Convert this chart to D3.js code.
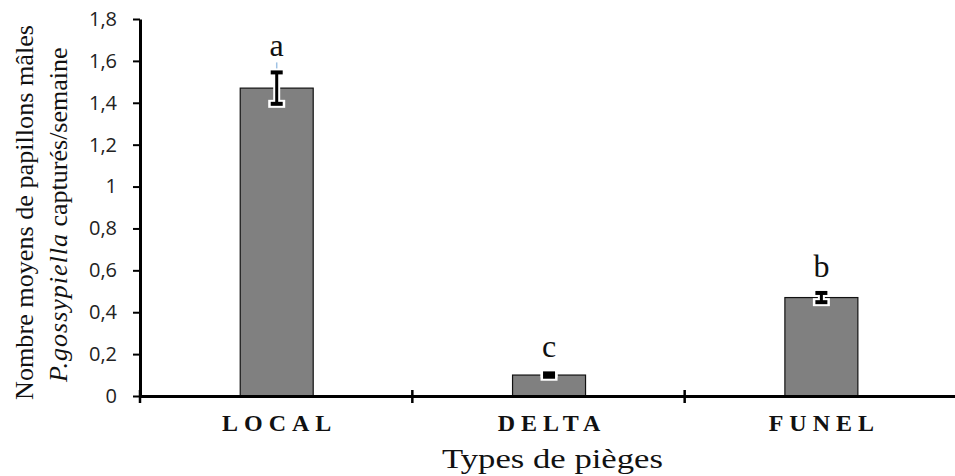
<!DOCTYPE html>
<html>
<head>
<meta charset="utf-8">
<script src="https://cdn.jsdelivr.net/npm/d3@7"></script>
<style>
  body { margin: 0; background: #fff; }
  .tick-label { font-family: "Open Sans", "Liberation Sans", sans-serif; font-size: 20px; fill: #222; }
  .cat-label { font-family: "Liberation Serif", serif; font-size: 24px; font-weight: bold; letter-spacing: 6px; fill: #111; }
  .serif { font-family: "Liberation Serif", serif; fill: #111; }
</style>
</head>
<body>
<div id="chart"></div>
<script>
// Data
const categories = ['LOCAL', 'DELTA', 'FUNEL'];
const means = [1.47, 0.10, 0.47];
const errors = [0.075, 0.008, 0.022];
const letters = ['a', 'c', 'b'];
const yTicks = [0, 0.2, 0.4, 0.6, 0.8, 1, 1.2, 1.4, 1.6, 1.8];

const W = 955, H = 476;
const margin = { top: 19, right: -2, bottom: 80, left: 140 };
const width = W - margin.left - margin.right;
const height = H - margin.top - margin.bottom;

const svg = d3.select('#chart').append('svg')
  .attr('width', W)
  .attr('height', H);

const g = svg.append('g')
  .attr('transform', `translate(${margin.left},${margin.top})`);

const x = d3.scaleBand()
  .domain(categories)
  .range([0, width])
  .padding(0);

const y = d3.scaleLinear()
  .domain([0, 1.8])
  .range([height, 0]);

const fmt = d => String(d).replace('.', ',');

// Y axis
const yAxis = g.append('g')
  .call(d3.axisLeft(y).tickValues(yTicks).tickFormat(fmt).tickSize(7).tickSizeOuter(0));
yAxis.select('.domain').attr('stroke', '#000').attr('stroke-width', 3);
yAxis.selectAll('.tick line').attr('stroke', '#000').attr('stroke-width', 2);
yAxis.selectAll('.tick text').attr('class', 'tick-label').attr('x', -23);

// Bars
const cx = d => x(d) + x.bandwidth() * 0.502;
const barW = x.bandwidth() * 0.268;
g.selectAll('.bar')
  .data(categories)
  .enter()
  .append('rect')
  .attr('class', 'bar')
  .attr('x', d => cx(d) - barW / 2)
  .attr('width', barW)
  .attr('y', (d, i) => y(means[i]))
  .attr('height', (d, i) => height - y(means[i]))
  .attr('fill', '#808080')
  .attr('stroke', '#111')
  .attr('stroke-width', 1.2);

// Error bars (black with white halo)
const eb = g.selectAll('.err')
  .data(categories)
  .enter()
  .append('g')
  .attr('class', 'err');

// faint blue tail above the first error bar, as in the original
eb.filter((d, i) => i === 0).append('line')
  .attr('x1', cx).attr('x2', cx)
  .attr('y1', (d, i) => y(means[0] + errors[0]) - 10)
  .attr('y2', (d, i) => y(means[0] + errors[0]))
  .attr('stroke', '#9fc2e4').attr('stroke-width', 1.5);

[['#fff', 7, 17], ['#000', 3, 12]].forEach(([col, sw, cap]) => {
  eb.append('line')
    .attr('x1', cx).attr('x2', cx)
    .attr('y1', (d, i) => y(means[i] + errors[i]))
    .attr('y2', (d, i) => y(means[i] - errors[i]))
    .attr('stroke', col).attr('stroke-width', sw);
  [1, -1].forEach(s => {
    eb.append('line')
      .attr('x1', d => cx(d) - cap / 2).attr('x2', d => cx(d) + cap / 2)
      .attr('y1', (d, i) => y(means[i] + s * errors[i]))
      .attr('y2', (d, i) => y(means[i] + s * errors[i]))
      .attr('stroke', col).attr('stroke-width', sw + 1);
  });
});

// Significance letters
g.selectAll('.letter')
  .data(categories)
  .enter()
  .append('text')
  .attr('class', 'serif')
  .attr('x', cx)
  .attr('y', (d, i) => y(means[i] + errors[i]) - 16)
  .attr('text-anchor', 'middle')
  .style('font-size', '32px')
  .text((d, i) => letters[i]);

// X axis
const xAxis = g.append('g')
  .attr('transform', `translate(0,${height})`)
  .call(d3.axisBottom(x).tickSize(0).tickSizeOuter(0));
xAxis.select('.domain').attr('stroke', '#000').attr('stroke-width', 3);
xAxis.selectAll('.tick text').remove();

// Category labels
g.selectAll('.cat')
  .data(categories)
  .enter()
  .append('text')
  .attr('class', 'cat-label')
  .attr('x', d => cx(d) + 3)
  .attr('y', height + 35)
  .attr('text-anchor', 'middle')
  .text(d => d);

// Category separators
g.selectAll('.sep')
  .data(categories)
  .enter()
  .append('line')
  .attr('x1', d => x(d)).attr('x2', d => x(d))
  .attr('y1', height - 6).attr('y2', height + 7)
  .attr('stroke', '#000').attr('stroke-width', 2.5);

// Axis titles
svg.append('text')
  .attr('class', 'serif')
  .attr('x', 442)
  .attr('y', 468)
  .attr('textLength', 221)
  .attr('lengthAdjust', 'spacingAndGlyphs')
  .style('font-size', '28px')
  .text('Types de pièges');

const yTitle = svg.append('text')
  .attr('class', 'serif')
  .attr('transform', 'rotate(-90)')
  .style('font-size', '26px');
yTitle.append('tspan')
  .attr('x', -400).attr('y', 33)
  .attr('textLength', 375)
  .attr('lengthAdjust', 'spacingAndGlyphs')
  .text('Nombre moyens de papillons mâles');
const l2 = yTitle.append('tspan')
  .attr('x', -382).attr('y', 67);
l2.append('tspan').style('font-style', 'italic').attr('letter-spacing', '1px').text('P.gossypiella');
l2.append('tspan').text(' capturés/semaine');
</script>
</body>
</html>
